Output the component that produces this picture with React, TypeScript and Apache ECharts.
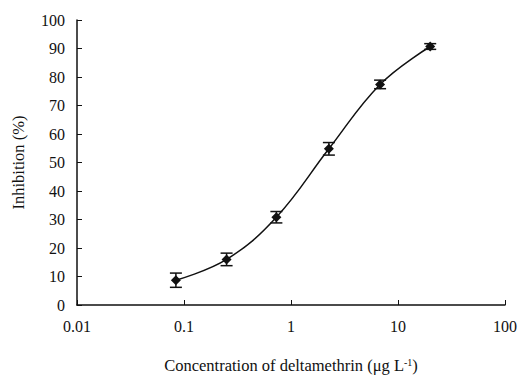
import React, { useEffect, useRef } from "react";
import * as echarts from "echarts";

const concentrations = [0.084, 0.25, 0.73, 2.26, 6.8, 20];
const inhibition = [8.7, 16.0, 30.8, 54.8, 77.4, 90.7];
const errors = [2.5, 2.2, 2.0, 2.2, 1.5, 1.0];
const xTickLabels = ["0.01", "0.1", "1", "10", "100"];

export default function App() {
  const ref = useRef<HTMLDivElement>(null);
  useEffect(() => {
    if (!ref.current) return;
    const chart = echarts.init(ref.current, undefined, { renderer: "svg" });
    const font = "Liberation Serif";
    const points = concentrations.map((c, i) => [c, inhibition[i]]);
    const errData = concentrations.map((c, i) => [c, inhibition[i] - errors[i], inhibition[i] + errors[i]]);
    chart.setOption({
      animation: false,
      grid: { left: 77, right: 17, top: 20, bottom: 71 },
      xAxis: {
        type: "log",
        logBase: 10,
        min: 0.01,
        max: 100,
        name: "{a|Concentration of deltamethrin (μg L}{s|-1}{a|)}",
        nameLocation: "middle",
        nameGap: 52,
        nameTextStyle: {
          rich: {
            a: { fontFamily: font, fontSize: 16.5, color: "#111" },
            s: { fontFamily: font, fontSize: 10, color: "#111", verticalAlign: "top", padding: [0, 0, 6, 0] },
          },
        },
        axisLine: { lineStyle: { color: "#111", width: 1.5 } },
        axisTick: { inside: true, length: 5, lineStyle: { color: "#111", width: 1 } },
        splitLine: { show: false },
        minorTick: { show: false },
        axisLabel: {
          margin: 13,
          fontFamily: font,
          fontSize: 16,
          color: "#111",
          formatter: (v: number) => {
            const idx = Math.round(Math.log10(v)) + 2;
            return xTickLabels[idx] ?? String(v);
          },
        },
      },
      yAxis: {
        type: "value",
        min: 0,
        max: 100,
        interval: 10,
        name: "Inhibition (%)",
        nameLocation: "middle",
        nameGap: 50,
        nameTextStyle: { fontFamily: font, fontSize: 16.5, color: "#111" },
        axisLine: { show: true, lineStyle: { color: "#111", width: 1.5 } },
        axisTick: { show: true, inside: true, length: 5, lineStyle: { color: "#111", width: 1 } },
        splitLine: { show: false },
        axisLabel: { margin: 12, fontFamily: font, fontSize: 16, color: "#111" },
      },
      series: [
        {
          type: "line",
          data: points,
          smooth: 0.4,
          symbol: "diamond",
          symbolSize: 10,
          itemStyle: { color: "#111" },
          lineStyle: { color: "#111", width: 1.5 },
          z: 3,
        },
        {
          type: "custom",
          data: errData,
          renderItem: (params: any, api: any) => {
            const x = api.value(0);
            const lo = api.coord([x, api.value(1)]);
            const hi = api.coord([x, api.value(2)]);
            const w = 6;
            const st = { stroke: "#111", lineWidth: 1.5 };
            return {
              type: "group",
              children: [
                { type: "line", shape: { x1: lo[0], y1: lo[1], x2: hi[0], y2: hi[1] }, style: st },
                { type: "line", shape: { x1: lo[0] - w, y1: lo[1], x2: lo[0] + w, y2: lo[1] }, style: st },
                { type: "line", shape: { x1: hi[0] - w, y1: hi[1], x2: hi[0] + w, y2: hi[1] }, style: st },
              ],
            };
          },
          z: 4,
        },
      ],
    });
    return () => chart.dispose();
  }, []);
  return <div ref={ref} style={{ width: 522, height: 379, position: "absolute", left: 0, top: 0 }} />;
}
